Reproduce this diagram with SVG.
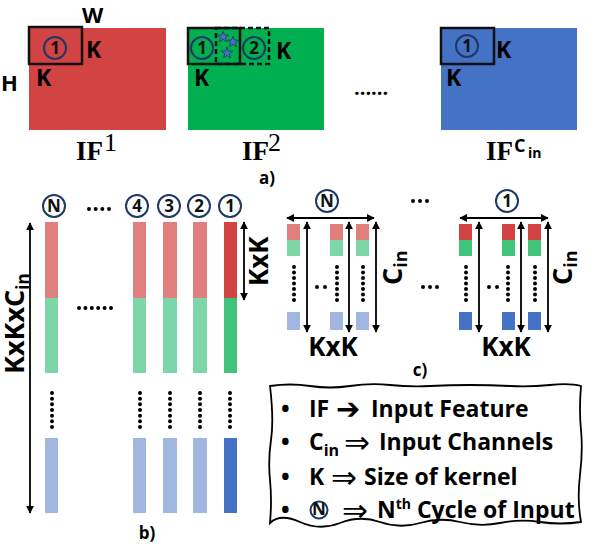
<svg xmlns="http://www.w3.org/2000/svg" xmlns:xlink="http://www.w3.org/1999/xlink" width="592" height="544" viewBox="0 0 592 544">
<defs>
<style>
.s{font-family:"Open Sans","Liberation Sans",sans-serif;font-weight:bold;fill:#000}
.sf{font-family:"Liberation Serif",serif;fill:#000}
.cir{fill:none;stroke:#1F3864;stroke-width:2}
.cn{font-family:"Open Sans","Liberation Sans",sans-serif;font-weight:bold;font-size:17px;text-anchor:middle;fill:#111}
.kb{fill:none;stroke:#111;stroke-width:2.5}
.ar{stroke:#000;stroke-width:1.8;fill:none;marker-start:url(#ah);marker-end:url(#ah)}
.dt{stroke:#000;stroke-width:4;stroke-linecap:round;fill:none}
.la{font-family:"DejaVu Sans",sans-serif;fill:#000}
.r1{fill:#D24343}.g1{fill:#3FC47A}.b1{fill:#4472C4}
.r2{fill:#E17F7F}.g2{fill:#7DD6A8}.b2{fill:#A1B7E0}
</style>
<marker id="ah" viewBox="0 0 10 10" refX="9" refY="5" markerWidth="8" markerHeight="8" markerUnits="userSpaceOnUse" orient="auto-start-reverse">
<path d="M0,0 L10,5 L0,10 z" fill="#000"/>
</marker>
<polygon id="star" points="0,-6 1.41,-1.94 5.71,-1.85 2.28,0.74 3.53,4.85 0,2.4 -3.53,4.85 -2.28,0.74 -5.71,-1.85 -1.41,-1.94" fill="#4472C4" stroke="#1F3864" stroke-width="0.8"/>
</defs>
<rect width="592" height="544" fill="#fff"/>

<!-- a) -->
<g id="if1">
<rect x="29" y="28" width="137" height="102" fill="#D24343"/>
<rect class="kb" x="29" y="27" width="53" height="37"/>
<circle class="cir" cx="55" cy="48" r="11"/>
<text class="cn" x="55" y="54" fill="#1F3864">1</text>
<text class="s" x="86" y="58" font-size="23">K</text>
<text class="s" x="36" y="86" font-size="23">K</text>
<text class="s" x="82" y="23" font-size="22">W</text>
<text class="s" x="1" y="91" font-size="22">H</text>
<text class="sf" x="76" y="160" font-size="27" font-weight="bold">IF</text>
<text class="sf" x="104" y="151" font-size="26">1</text>
</g>
<g id="if2">
<rect x="188" y="28" width="136" height="102" fill="#00B050"/>
<rect class="kb" x="188" y="28" width="52" height="36"/>
<rect class="kb" x="216" y="28" width="53" height="36" stroke-dasharray="5 3"/>
<circle class="cir" cx="202" cy="48" r="11"/>
<text class="cn" x="202" y="54">1</text>
<circle class="cir" cx="254" cy="48" r="11"/>
<text class="cn" x="254" y="54">2</text>
<use xlink:href="#star" x="223" y="37"/>
<use xlink:href="#star" x="233" y="42"/>
<use xlink:href="#star" x="227" y="53"/>
<text class="s" x="276" y="59" font-size="23">K</text>
<text class="s" x="194" y="86" font-size="23">K</text>
<text class="sf" x="242" y="160" font-size="27" font-weight="bold">IF</text>
<text class="sf" x="268" y="151" font-size="26">2</text>
</g>
<text class="s" x="354" y="95" font-size="20">......</text>
<g id="ifcin">
<rect x="441" y="28" width="136" height="102" fill="#4472C4"/>
<rect class="kb" x="441" y="28" width="53" height="36"/>
<circle class="cir" cx="467" cy="46" r="11"/>
<text class="cn" x="467" y="52">1</text>
<text class="s" x="496" y="58" font-size="23">K</text>
<text class="s" x="446" y="86" font-size="23">K</text>
<text class="sf" x="486" y="160" font-size="27" font-weight="bold">IF</text>
<text class="s" x="514" y="152" font-size="18">C</text>
<text class="s" x="528" y="158" font-size="14">in</text>
</g>
<text class="s" x="267" y="184" font-size="17" text-anchor="middle">a)</text>

<!-- b) -->
<g id="bars">
<g id="barN">
<circle class="cir" cx="54" cy="206" r="11" fill="#fff"/><text class="cn" x="54" y="212">N</text>
<rect class="r2" x="45" y="222" width="13" height="76"/><rect class="g2" x="45" y="298" width="13" height="75"/><rect class="b2" x="45" y="438" width="13" height="75"/>
</g>
<g id="bar4">
<circle class="cir" cx="137" cy="206" r="11" fill="#fff"/><text class="cn" x="137" y="212">4</text>
<rect class="r2" x="133" y="222" width="13" height="76"/><rect class="g2" x="133" y="298" width="13" height="75"/><rect class="b2" x="133" y="438" width="13" height="75"/>
</g>
<g id="bar3">
<circle class="cir" cx="169" cy="206" r="11" fill="#fff"/><text class="cn" x="169" y="212">3</text>
<rect class="r2" x="163" y="222" width="14" height="76"/><rect class="g2" x="163" y="298" width="14" height="75"/><rect class="b2" x="163" y="438" width="14" height="75"/>
</g>
<g id="bar2">
<circle class="cir" cx="199" cy="206" r="11" fill="#fff"/><text class="cn" x="199" y="212">2</text>
<rect class="r2" x="193" y="222" width="14" height="76"/><rect class="g2" x="193" y="298" width="14" height="75"/><rect class="b2" x="193" y="438" width="14" height="75"/>
</g>
<g id="bar1">
<circle class="cir" cx="230" cy="206" r="11" fill="#fff"/><text class="cn" x="230" y="212">1</text>
<rect class="r1" x="224" y="222" width="13" height="76"/><rect class="g1" x="224" y="298" width="13" height="75"/><rect class="b1" x="224" y="438" width="13" height="75"/>
</g>
<path class="dt" stroke-dasharray="0 5.67" d="M52,393V427.6M140,393V427.6M170,393V427.6M200,393V427.6M230,393V427.6"/>
<path class="dt" stroke-dasharray="0 6.67" d="M89,209H109.6"/>
<path class="dt" stroke-dasharray="0 6.4" d="M79,308H111.6"/>
<text class="s" transform="translate(24,374) rotate(-90)" font-size="27">KxKxC<tspan font-size="17" dy="5">in</tspan></text>
<text class="s" transform="translate(268,286) rotate(-90)" font-size="26">KxK</text>
</g>
<text class="s" x="147" y="539" font-size="17" text-anchor="middle">b)</text>

<!-- c) -->
<g id="cN">
<circle class="cir" cx="327" cy="201" r="11"/><text class="cn" x="327" y="207">N</text>
<rect class="r2" x="287" y="224" width="13" height="16"/><rect class="g2" x="287" y="240" width="13" height="16"/><rect class="b2" x="287" y="312" width="13" height="18"/>
<rect class="r2" x="330" y="224" width="13" height="16"/><rect class="g2" x="330" y="240" width="13" height="16"/><rect class="b2" x="330" y="312" width="13" height="18"/>
<rect class="r2" x="356" y="224" width="13" height="16"/><rect class="g2" x="356" y="240" width="13" height="16"/><rect class="b2" x="356" y="312" width="13" height="18"/>
<path class="dt" stroke-dasharray="0 5.5" d="M294,267V300.6M337,267V300.6M363,267V300.6"/>
<path class="dt" stroke-dasharray="0 8" d="M317,287H325.6"/>
<text class="s" x="333" y="356" font-size="26" text-anchor="middle">KxK</text>
<text class="s" transform="translate(402,285) rotate(-90)" font-size="27">C<tspan font-size="18" dy="5">in</tspan></text>
</g>
<g id="c1">
<circle class="cir" cx="507" cy="201" r="11"/><text class="cn" x="507" y="207">1</text>
<rect class="r1" x="459" y="224" width="13" height="16"/><rect class="g1" x="459" y="240" width="13" height="16"/><rect class="b1" x="459" y="312" width="13" height="18"/>
<rect class="r1" x="502" y="224" width="13" height="16"/><rect class="g1" x="502" y="240" width="13" height="16"/><rect class="b1" x="502" y="312" width="13" height="18"/>
<rect class="r1" x="528" y="224" width="13" height="16"/><rect class="g1" x="528" y="240" width="13" height="16"/><rect class="b1" x="528" y="312" width="13" height="18"/>
<path class="dt" stroke-dasharray="0 5.5" d="M466,267V300.6M508,267V300.6M535,267V300.6"/>
<path class="dt" stroke-dasharray="0 8" d="M489,287H497.6"/>
<text class="s" x="506" y="356" font-size="26" text-anchor="middle">KxK</text>
<text class="s" transform="translate(572,285) rotate(-90)" font-size="27">C<tspan font-size="18" dy="5">in</tspan></text>
</g>
<path class="dt" stroke-dasharray="0 7" d="M413,201H427.6"/>
<path class="dt" stroke-dasharray="0 7" d="M423,287H437.6"/>
<text class="s" x="420" y="376" font-size="17" text-anchor="middle">c)</text>

<g id="connectors">
<line class="ar" x1="30" y1="223" x2="30" y2="513"/>
<line class="ar" x1="244" y1="222" x2="244" y2="300"/>
<line class="ar" x1="287" y1="218" x2="374" y2="218"/>
<line class="ar" x1="307" y1="222" x2="307" y2="332"/>
<line class="ar" x1="349" y1="222" x2="349" y2="332"/>
<line class="ar" x1="376" y1="222" x2="376" y2="332"/>
<line class="ar" x1="460" y1="218" x2="548" y2="218"/>
<line class="ar" x1="479" y1="222" x2="479" y2="332"/>
<line class="ar" x1="521" y1="222" x2="521" y2="332"/>
<line class="ar" x1="548" y1="222" x2="548" y2="332"/>
</g>

<!-- legend -->
<g id="legend">
<path d="M270,386 Q290,383 310,386 T350,386 T390,385 T430,386 T470,385 T510,386 T550,385 T581,386 Q579,410 581,430 T580,475 T581,522 Q560,525 540,522 T500,523 T460,522 T420,523 T380,522 T340,523 T300,522 T270,523 Q272,500 270,480 T271,440 T270,386 Z" fill="#fff" stroke="#000" stroke-width="1.8"/>
<text class="s" font-size="23" x="281" y="417">•</text>
<text class="s" font-size="23" x="281" y="450">•</text>
<text class="s" font-size="23" x="281" y="485">•</text>
<text class="s" font-size="23" x="281" y="518">•</text>
<text class="s" font-size="23" x="309" y="417">IF</text>
<text class="la" font-size="29" x="336" y="419">➔</text>
<text class="s" font-size="23" x="371" y="417">Input Feature</text>
<text class="s" font-size="23" x="309" y="450">C<tspan font-size="16" dy="6">in</tspan></text>
<text class="la" font-size="31" x="344" y="453">⇒</text>
<text class="s" font-size="23" x="379" y="450">Input Channels</text>
<text class="s" font-size="23" x="309" y="485">K</text>
<text class="la" font-size="31" x="331" y="488">⇒</text>
<text class="s" font-size="23" x="364" y="485">Size of kernel</text>
<circle class="cir" cx="319" cy="510" r="8.5"/>
<text class="cn" font-size="12" x="319" y="514.5">N</text>
<text class="la" font-size="31" x="342" y="521">⇒</text>
<text class="s" font-size="23" x="377" y="518">N<tspan font-size="14" dy="-9">th</tspan><tspan dy="9"> Cycle of Input</tspan></text>
</g>
</svg>
